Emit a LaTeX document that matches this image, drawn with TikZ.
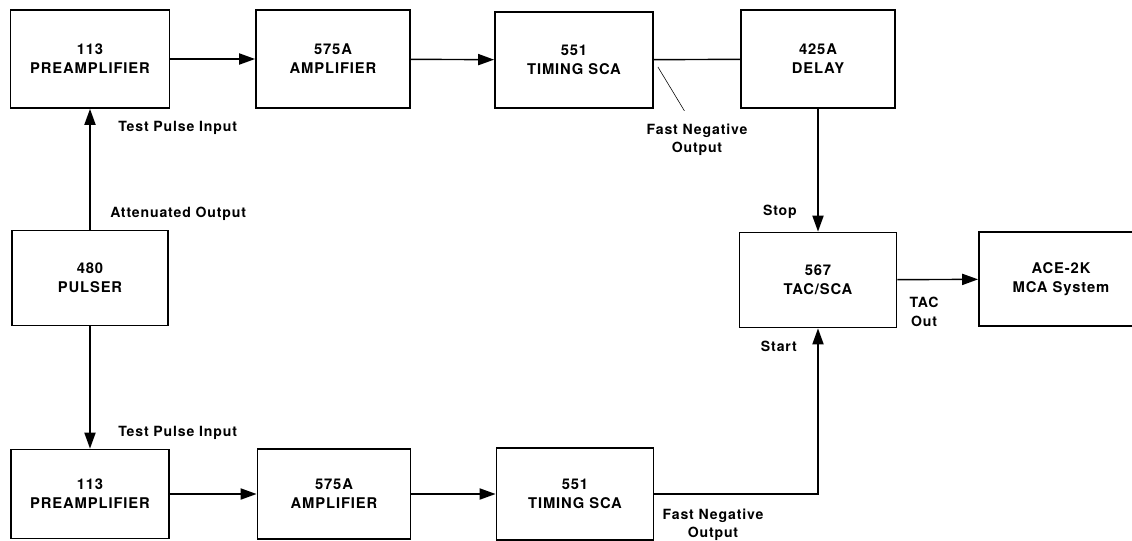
\documentclass[tikz,border=0pt]{standalone}
\usepackage{fontspec}
\setmainfont{TeX Gyre Heros}[LetterSpace=6]
\usetikzlibrary{arrows.meta}
\usetikzlibrary{positioning}

\begin{document}
\begin{tikzpicture}[x=0.025cm,y=-0.025cm,
  module/.style={draw,line width=1.3pt,align=center,inner sep=0pt,minimum width=3.9cm,minimum height=2.4cm,font=\fontsize{10.5}{13.5}\selectfont\bfseries},
  lbl/.style={align=center,inner sep=0pt,font=\fontsize{10}{13}\selectfont\bfseries},
  sig/.style={line width=1pt,-{Triangle[length=0.4cm,width=0.28cm]}}]
  \useasboundingbox (0,0) rectangle (1132,540);

  %top chain
  \node[module,minimum width=3.975cm,minimum height=2.45cm] (pre1) at (90,59) {113\\PREAMPLIFIER};
  \node[module,minimum width=3.85cm,minimum height=2.45cm] (amp1) at (333,59) {575A\\AMPLIFIER};
  \node[module,minimum width=3.95cm,minimum height=2.4cm] (sca1) at (574,60) {551\\TIMING SCA};
  \node[module,minimum width=3.85cm,minimum height=2.45cm] (delay) at (818,59) {425A\\DELAY};
  \draw[sig] (pre1) -- (amp1);
  \draw[sig] (amp1) -- (sca1);
  \draw[line width=1pt] (sca1) -- (delay);
  \node[lbl] (fast1) at (697,140) {Fast Negative\\Output};
  \draw[thin] ([shift={(4,7)}]sca1.east) -- ([shift={(38,-13)}]fast1.north west);

  %pulser
  \node[module,minimum width=3.9cm,minimum height=2.375cm] (pulser) at (90,278) {480\\PULSER};
  \draw[sig] (pulser) -- (pre1);
  \node[lbl,anchor=west] (test1) at (118,128) {Test Pulse Input};
  \node[lbl,anchor=west] (atten) at (110,214) {Attenuated Output};

  %bottom chain
  \node[module,minimum width=3.95cm,minimum height=2.225cm] (pre2) at (90,494) {113\\PREAMPLIFIER};
  \node[module,minimum width=3.825cm,minimum height=2.25cm] (amp2) at (334,494) {575A\\AMPLIFIER};
  \node[module,minimum width=3.925cm,minimum height=2.3cm] (sca2) at (575,494) {551\\TIMING SCA};
  \draw[sig] (pulser) -- (pre2);
  \draw[sig] (pre2) -- (amp2);
  \draw[sig] (amp2) -- (sca2);
  \node[lbl,anchor=west] (test2) at (118,433) {Test Pulse Input};
  \node[lbl] (fast2) at (713,525) {Fast Negative\\Output};

  %timing
  \node[module,minimum width=3.925cm,minimum height=2.375cm] (tac) at (818,280) {567\\TAC/SCA};
  \node[module,minimum width=4.1cm,minimum height=2.35cm] (mca) at (1061,279) {ACE-2K\\MCA System};
  \draw[sig] (delay) -- (tac);
  \draw[sig] (sca2) -| (tac);
  \draw[sig] (tac) -- (mca);
  \node[lbl,anchor=east] (stop) at (797,212) {Stop};
  \node[lbl,anchor=east] (start) at (797,346) {Start};
  \node[lbl] (tacout) at (924,312) {TAC\\Out};
\end{tikzpicture}
\end{document}
